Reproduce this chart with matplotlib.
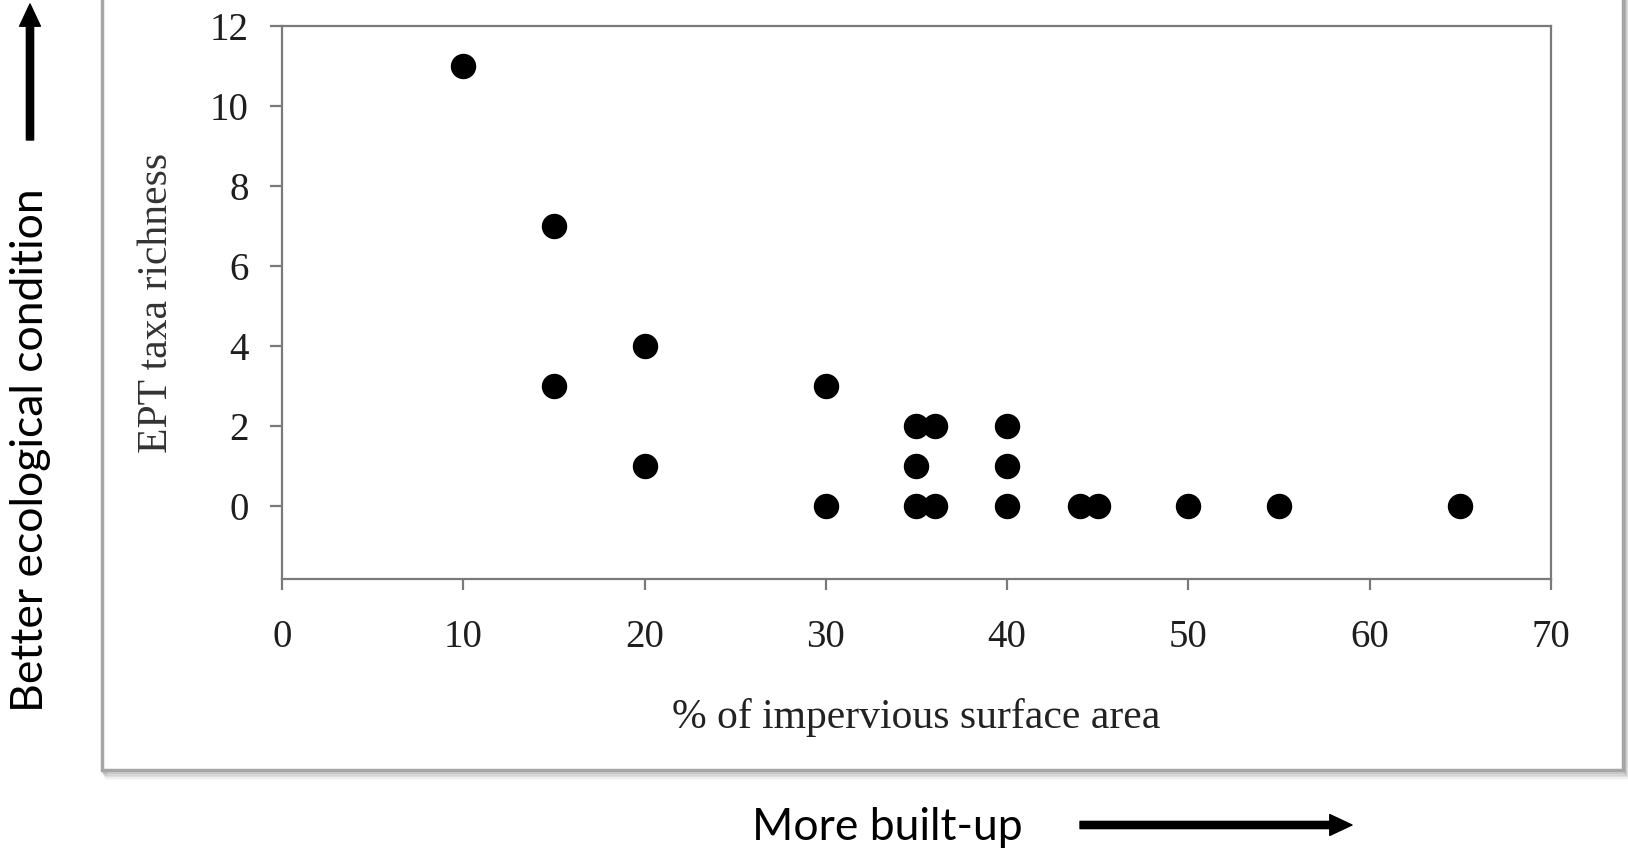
import matplotlib
matplotlib.use("Agg")
import matplotlib.pyplot as plt
from matplotlib.patches import Rectangle, FancyArrowPatch

# impervious surface (%) vs EPT taxa richness
impervious = [10, 15, 15, 20, 20, 30, 30, 35, 36, 35, 35, 36, 40, 40, 40, 44, 45, 50, 55, 65]
ept_richness = [11, 7, 3, 4, 1, 3, 0, 2, 2, 1, 0, 0, 2, 1, 0, 0, 0, 0, 0, 0]

x_ticks = [0, 10, 20, 30, 40, 50, 60, 70]
y_ticks = [0, 2, 4, 6, 8, 10, 12]

W, H = 1628, 851
fig = plt.figure(figsize=(W / 100, H / 100), dpi=100)
fig.patch.set_facecolor("white")

# framed panel with a soft shadow (pixel coords, origin bottom-left)
bx0, bx1, by0, by1 = 102, 1623, 81, 870
for i, a in enumerate([0.10, 0.08, 0.06, 0.04, 0.02]):
    off = 2 + i * 1.5
    fig.add_artist(Rectangle((bx0 + off / 2, by0 - off), bx1 - bx0, by1 - by0,
                             transform=None, facecolor="none",
                             edgecolor=(0, 0, 0, a), lw=3, zorder=-20))
fig.add_artist(Rectangle((bx0, by0), bx1 - bx0, by1 - by0, transform=None,
                         facecolor="white", edgecolor="#a6a6a6", lw=2.5, zorder=-10))

ax = fig.add_axes([282 / W, 1 - 579 / H, (1551 - 282) / W, (579 - 26) / H])
ax.set_facecolor("none")
ax.plot(impervious, ept_richness, "o", color="black", markersize=17.3, zorder=3)

ax.set_xlim(0, 70)
ax.set_ylim(-1.83, 12)
ax.set_xticks(x_ticks)
ax.set_yticks(y_ticks)

serif = "Liberation Serif"
grey = "#7a7a7a"
for s in ax.spines.values():
    s.set_color(grey)
    s.set_linewidth(1.6)
ax.tick_params(axis="x", direction="out", length=8, width=1.6, color=grey,
               pad=21, labelsize=28, labelcolor="#1e1e1e")
ax.tick_params(axis="y", direction="out", length=9, width=1.6, color=grey,
               pad=15, labelsize=28, labelcolor="#1e1e1e")
for lab in ax.get_xticklabels() + ax.get_yticklabels():
    lab.set_fontfamily(serif)

ax.set_xlabel("% of impervious surface area", fontsize=30, family=serif,
              color="#222222", labelpad=30)
ax.set_ylabel("EPT taxa richness", fontsize=30, family=serif,
              color="#333333", labelpad=24)

# outer annotations
sans = "Lato"
fig.text(31 / W, 1 - 450 / H, "Better ecological condition", rotation=90,
         ha="center", va="center", fontsize=32, family=sans, color="black")
fig.text(887 / W, 1 - 828 / H, "More built-up", ha="center", va="center",
         fontsize=32, family=sans, color="black")

style = "simple,head_length=0.8,head_width=0.75,tail_width=0.26"
fig.add_artist(FancyArrowPatch((30, H - 140), (30, H - 4), transform=None,
                               arrowstyle=style, mutation_scale=20,
                               color="black", shrinkA=0, shrinkB=0))
fig.add_artist(FancyArrowPatch((1080, H - 825), (1352, H - 825), transform=None,
                               arrowstyle=style, mutation_scale=20,
                               color="black", shrinkA=0, shrinkB=0))

fig.savefig("out.png", dpi=100)
